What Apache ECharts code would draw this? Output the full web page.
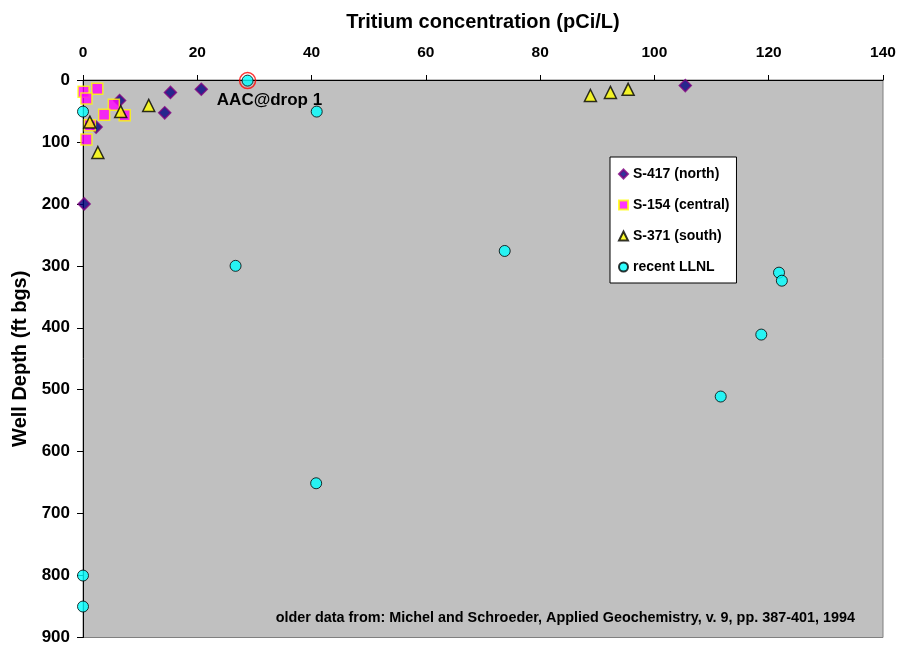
<!DOCTYPE html>
<html>
<head>
<meta charset="utf-8">
<script src="https://cdn.jsdelivr.net/npm/echarts@6/dist/echarts.min.js"></script>
<style>
  html, body { margin: 0; padding: 0; background: #ffffff; }
  #chart { width: 901px; height: 646px; }
</style>
</head>
<body>
<div id="chart"></div>
<script>
// Tritium concentration (pCi/L) vs. well depth (ft bgs)
const s417North = [[6.4, 33], [15.3, 20], [20.7, 15], [14.3, 53], [2.3, 76], [0.2, 200], [105.4, 9]];
const s154Central = [[0.1, 19], [2.5, 14], [0.6, 30], [5.4, 40], [3.7, 56], [7.3, 57], [1.2, 73], [0.6, 96]];
const s371South = [[11.5, 41], [6.6, 51], [1.2, 68], [2.6, 117], [88.8, 25], [92.3, 20], [95.4, 15]];
const recentLLNL = [[0, 51], [28.8, 1], [40.9, 51], [26.7, 300], [73.8, 276], [40.8, 651],
                    [121.8, 311], [122.3, 324], [118.7, 411], [111.6, 511], [0, 800], [0, 850]];
const aacDrop1 = [[28.8, 1]];

const xTicks = { min: 0, max: 140, interval: 20 };
const yTicks = { min: 0, max: 900, interval: 100 };

const seriesNames = ['S-417 (north)', 'S-154 (central)', 'S-371 (south)', 'recent LLNL'];
const sourceNote = 'older data from: Michel and Schroeder, Applied Geochemistry, v. 9, pp. 387-401, 1994';

const FONT = 'Arial, "Liberation Sans", sans-serif';

const chart = echarts.init(document.getElementById('chart'), null, { renderer: 'canvas' });

chart.setOption({
  animation: false,
  backgroundColor: '#ffffff',
  grid: {
    left: 83, right: 18, top: 80, bottom: 6,
    show: true, backgroundColor: '#C0C0C0', borderColor: '#808080', borderWidth: 1
  },
  legend: {
    data: seriesNames,
    orient: 'vertical',
    left: 610, top: 157,
    backgroundColor: '#ffffff',
    borderColor: '#000000', borderWidth: 1,
    padding: [10, 7, 9, 8],
    itemGap: 17,
    itemWidth: 9, itemHeight: 9,
    textStyle: { fontFamily: FONT, fontWeight: 'bold', fontSize: 14, color: '#000000' }
  },
  xAxis: {
    type: 'value', position: 'top',
    min: xTicks.min, max: xTicks.max, interval: xTicks.interval,
    name: 'Tritium concentration (pCi/L)', nameLocation: 'middle', nameGap: 48,
    nameTextStyle: { fontFamily: FONT, fontWeight: 'bold', fontSize: 20, color: '#000000' },
    axisLine: { show: true, lineStyle: { color: '#000000', width: 1 } },
    axisTick: { show: true, inside: false, length: 5, lineStyle: { color: '#000000' } },
    axisLabel: { fontFamily: FONT, fontWeight: 'bold', fontSize: 15.5, color: '#000000', margin: 19 },
    splitLine: { show: false }
  },
  yAxis: {
    type: 'value', inverse: true,
    min: yTicks.min, max: yTicks.max, interval: yTicks.interval,
    name: 'Well Depth (ft bgs)', nameLocation: 'middle', nameGap: 49, nameRotate: 90,
    nameTextStyle: { fontFamily: FONT, fontWeight: 'bold', fontSize: 20, color: '#000000' },
    axisLine: { show: true, lineStyle: { color: '#000000', width: 1 } },
    axisTick: { show: true, inside: false, length: 6, lineStyle: { color: '#000000' } },
    axisLabel: { fontFamily: FONT, fontWeight: 'bold', fontSize: 17, color: '#000000', margin: 13 },
    splitLine: { show: false }
  },
  series: [
    {
      name: seriesNames[0], type: 'scatter', data: s417North,
      symbol: 'diamond', symbolSize: 12,
      itemStyle: { color: '#000080', borderColor: '#800080', borderWidth: 1.5 }
    },
    {
      name: seriesNames[1], type: 'scatter', data: s154Central,
      symbol: 'rect', symbolSize: 11,
      itemStyle: { color: '#FF00FF', borderColor: '#FFFF00', borderWidth: 1.5 }
    },
    {
      name: seriesNames[2], type: 'scatter', data: s371South,
      symbol: 'triangle', symbolSize: 12,
      itemStyle: { color: '#FFFF00', borderColor: '#000000', borderWidth: 1.5 }
    },
    {
      name: 'AAC@drop 1', type: 'scatter', data: aacDrop1,
      symbol: 'circle', symbolSize: 16, z: 1,
      itemStyle: { color: 'rgba(0,0,0,0)', borderColor: '#FF0000', borderWidth: 1.5 },
      label: {
        show: true, formatter: 'AAC@drop 1',
        position: [-22, 28], align: 'left', verticalAlign: 'middle',
        fontFamily: FONT, fontWeight: 'bold', fontSize: 17, color: '#000000',
        textBorderWidth: 0, opacity: 1
      }
    },
    {
      name: seriesNames[3], type: 'scatter', data: recentLLNL,
      symbol: 'circle', symbolSize: 11, z: 3,
      itemStyle: { color: '#00FFFF', borderColor: '#000000', borderWidth: 1 }
    }
  ],
  graphic: [
    {
      type: 'text', right: 46, top: 611, z: 10,
      style: { text: sourceNote, fontFamily: FONT, fontWeight: 'bold', fontSize: 14.4, fill: '#000000' }
    }
  ]
});
</script>
</body>
</html>
